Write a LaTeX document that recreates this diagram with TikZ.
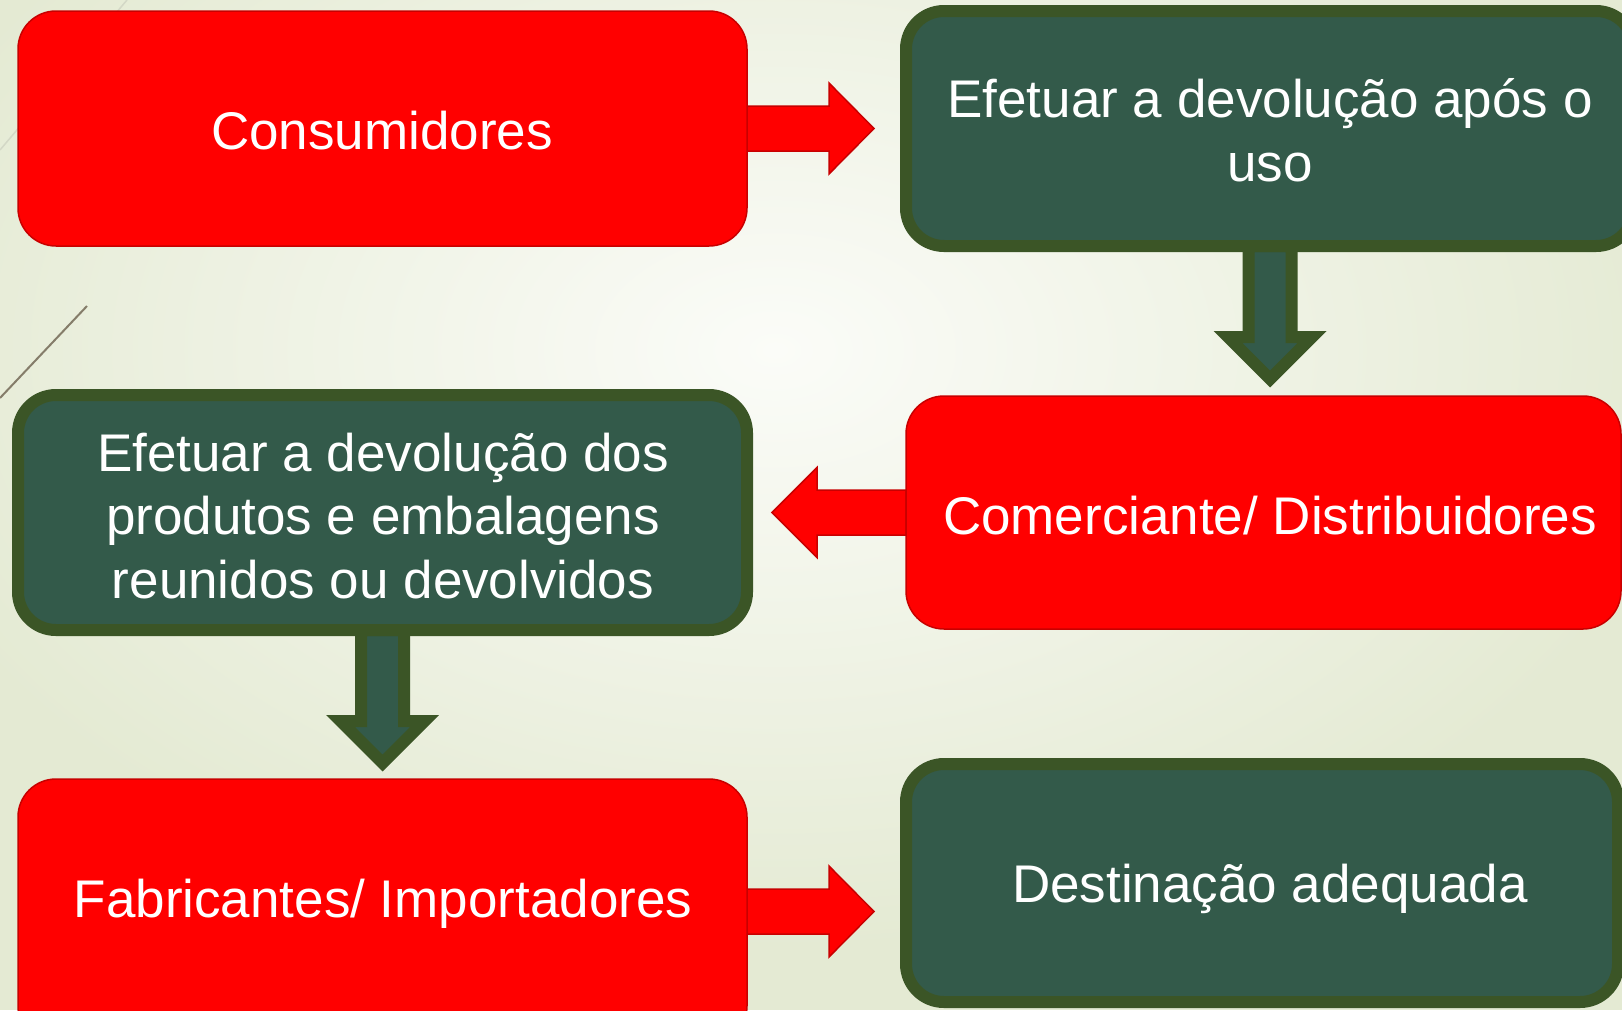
\documentclass[tikz,border=0pt]{standalone}
\usepackage{fontspec}
\setmainfont{Liberation Sans}
\usetikzlibrary{calc}
\definecolor{bgin}{HTML}{FBFCF8}
\definecolor{bgout}{HTML}{E4EAD3}
\definecolor{redfill}{HTML}{FF0000}
\definecolor{redline}{HTML}{C80000}
\definecolor{grfill}{HTML}{335A4A}
\definecolor{grline}{HTML}{3B5526}
\definecolor{faintline}{HTML}{D3D8C6}
\definecolor{darkline}{HTML}{857D6A}
\pgfdeclarelayer{bglayer}
\pgfdeclarelayer{arrowlayer}
\pgfsetlayers{bglayer,arrowlayer,main}
\begin{document}
\begin{tikzpicture}[x=1pt,y=-1pt,
 redbox/.style={draw=redline, fill=redfill, line width=1.5pt, rounded corners=38pt, inner sep=0pt, outer sep=0pt},
 greenbox/.style={draw=grline, fill=grfill, line width=12pt, rounded corners=38pt, inner sep=0pt, outer sep=0pt},
 redarrow/.style={draw=redline, fill=redfill, line width=1.5pt, line join=miter},
 greenarrow/.style={draw=grline, fill=grfill, line width=12pt, line join=miter},
 lbl/.style={text=white, font=\fontsize{53pt}{63.6pt}\selectfont, inner sep=0pt, anchor=base}]
\useasboundingbox (0,0) rectangle (1622,1010);

% boxes
\node[redbox, minimum width=729pt, minimum height=235pt] (b1) at (382.5,128.5) {};
\node[greenbox, minimum width=728pt, minimum height=235pt] (b2) at (1270,128.5) {};
\node[redbox, minimum width=715pt, minimum height=233pt] (b3) at (1263.5,512.5) {};
\node[greenbox, minimum width=729pt, minimum height=235pt] (b4) at (382.5,512.5) {};
\node[redbox, minimum width=729pt, minimum height=265pt] (b5) at (382.5,911.5) {};
\node[greenbox, minimum width=712pt, minimum height=238pt] (b6) at (1262,883) {};

% labels
\node[lbl] (t1) at (382,149) {Consumidores};
\node[lbl] (t2a) at (1270,117) {Efetuar a devolução após o};
\node[lbl] (t2b) at (1270,181) {uso};
\node[lbl] (t3) at (1270,534) {Comerciante/ Distribuidores};
\node[lbl] (t4a) at (383,471) {Efetuar a devolução dos};
\node[lbl] (t4b) at (383,534) {produtos e embalagens};
\node[lbl] (t4c) at (383,598) {reunidos ou devolvidos};
\node[lbl] (t5) at (383,917) {Fabricantes/ Importadores};
\node[lbl] (t6) at (1270,902) {Destinação adequada};

\begin{pgfonlayer}{bglayer}
\fill[bgout] (0,0) rectangle (1622,1010);
\shade[inner color=bgin, outer color=bgout] (-150,-250) rectangle (1700,950);
\draw[faintline, line width=1.5pt] (0,150) -- (127,0);
\draw[darkline, line width=2pt] (0,398) -- (87,306);
\end{pgfonlayer}

\begin{pgfonlayer}{arrowlayer}
% Consumidores -> Efetuar a devolucao apos o uso
\draw[redarrow] ($(b1.east)+(0,-22.5)$) -- ($(b1.east)+(82,-22.5)$) -- ($(b1.east)+(82,-45.5)$)
  -- ($(b2.west)+(-32,0)$) -- ($(b1.east)+(82,45.5)$) -- ($(b1.east)+(82,22.5)$) -- ($(b1.east)+(0,22.5)$) -- cycle;
% Efetuar ... uso -> Comerciante
\draw[greenarrow] ($(b2.south)+(-21.5,0)$) -- ($(b2.south)+(-21.5,91)$) -- ($(b2.south)+(-42,91)$)
  -- ($(b2.south)+(0,133)$) -- ($(b2.south)+(42,91)$) -- ($(b2.south)+(21.5,91)$) -- ($(b2.south)+(21.5,0)$) -- cycle;
% Comerciante -> Efetuar ... devolvidos
\draw[redarrow] ($(b3.west)+(0,-22.5)$) -- ($(b3.west)+(-89,-22.5)$) -- ($(b3.west)+(-89,-45)$)
  -- ($(b4.east)+(25,0)$) -- ($(b3.west)+(-89,45)$) -- ($(b3.west)+(-89,22.5)$) -- ($(b3.west)+(0,22.5)$) -- cycle;
% Efetuar ... devolvidos -> Fabricantes
\draw[greenarrow] ($(b4.south)+(-21.5,0)$) -- ($(b4.south)+(-21.5,91)$) -- ($(b4.south)+(-42,91)$)
  -- ($(b4.south)+(0,133)$) -- ($(b4.south)+(42,91)$) -- ($(b4.south)+(21.5,91)$) -- ($(b4.south)+(21.5,0)$) -- cycle;
% Fabricantes -> Destinacao adequada
\draw[redarrow] ($(b5.east)+(0,-22.5)$) -- ($(b5.east)+(82,-22.5)$) -- ($(b5.east)+(82,-45.5)$)
  -- ($(b5.east -| b6.west)+(-32,0)$) -- ($(b5.east)+(82,45.5)$) -- ($(b5.east)+(82,22.5)$) -- ($(b5.east)+(0,22.5)$) -- cycle;
\end{pgfonlayer}
\end{tikzpicture}
\end{document}
